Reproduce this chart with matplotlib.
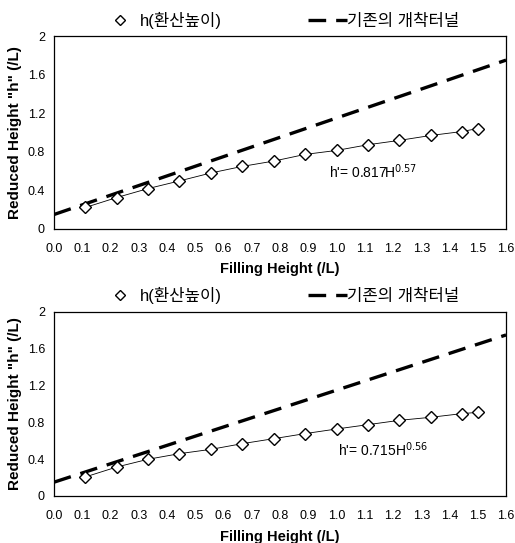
import matplotlib
matplotlib.use('Agg')
import matplotlib.pyplot as plt
from matplotlib.lines import Line2D

plt.rcParams['font.family'] = ['Liberation Sans', 'Noto Sans CJK KR', 'DejaVu Sans']

# filling height H (/L)
fill_h = [0.111, 0.222, 0.333, 0.444, 0.556, 0.667, 0.778, 0.889, 1.0,
          1.111, 1.222, 1.333, 1.444, 1.5]
# reduced height h (/L)
h_top = [0.223, 0.326, 0.419, 0.498, 0.581, 0.649, 0.704, 0.773, 0.814,
         0.873, 0.918, 0.969, 1.010, 1.041]
h_bottom = [0.207, 0.315, 0.399, 0.460, 0.507, 0.569, 0.623, 0.678, 0.728,
            0.775, 0.822, 0.855, 0.895, 0.909]
# existing cut-and-cover tunnel line
tunnel_x = [0.0, 1.6]
tunnel_y = [0.15, 1.75]

eq_top = "h'= 0.817H$^{0.57}$"
eq_bottom = "h'= 0.715H$^{0.56}$"
xticks = [i / 10 for i in range(17)]
yticks = [0, 0.4, 0.8, 1.2, 1.6, 2.0]
ytick_labels = ['0', '0.4', '0.8', '1.2', '1.6', '2']

DASH = (5.3, 3.0)

fig = plt.figure(figsize=(5.15, 5.43), dpi=100)
panels = [
    ([0.1049, 0.5783, 0.8777, 0.3554], h_top, eq_top, (0.975, 0.53), 1.083, 5),
    ([0.1049, 0.0866, 0.8777, 0.3389], h_bottom, eq_bottom, (1.005, 0.43), 1.092, 6),
]

for rect, hvals, eq, eq_pos, leg_y, xpad in panels:
    ax = fig.add_axes(rect)
    ax.plot(fill_h, hvals, color='black', lw=0.6, marker='D', ms=6.5,
            mfc='white', mec='black', mew=1.0, zorder=3)
    ax.plot(tunnel_x, tunnel_y, color='black', lw=2.4, dashes=DASH, zorder=2)
    ax.set_xlim(0, 1.6)
    ax.set_ylim(0, 2)
    ax.set_xticks(xticks)
    ax.set_xticklabels([f'{t:.1f}' for t in xticks])
    ax.set_yticks(yticks)
    ax.set_yticklabels(ytick_labels)
    ax.tick_params(length=0, labelsize=9, pad=6.5)
    ax.tick_params(axis='x', pad=10)
    for s in ax.spines.values():
        s.set_linewidth(0.9)
    ax.text(eq_pos[0], eq_pos[1], eq, fontsize=10)
    ax.set_xlabel('Filling Height (/L)', fontsize=10.5, fontweight='bold', labelpad=xpad)
    ax.set_ylabel('Reduced Height "h" (/L)', fontsize=11, fontweight='bold', labelpad=4)

    handles = [
        Line2D([], [], ls='none', marker='D', ms=5, mfc='white', mec='black', mew=1.0),
        Line2D([], [], color='black', lw=2.4, dashes=DASH),
    ]
    ax.legend(handles, ['h(환산높이)', '기존의 개착터널'], loc='center',
              bbox_to_anchor=(0.5, leg_y), ncol=2, frameon=False, fontsize=12,
              handlelength=2.3, columnspacing=5.2, handletextpad=0.05,
              borderpad=0, borderaxespad=0)

plt.savefig('out.png', dpi=100)
